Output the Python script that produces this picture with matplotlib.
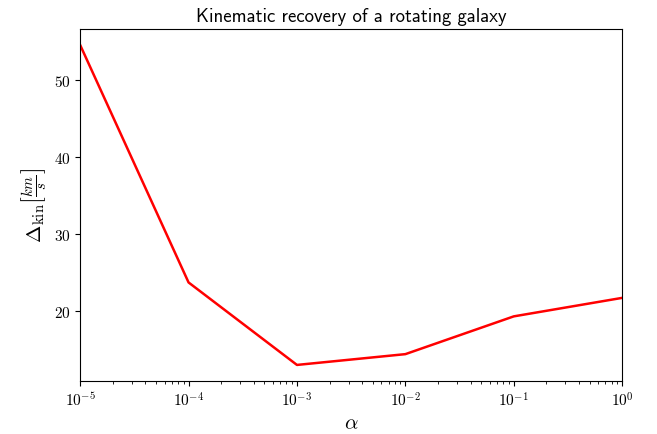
import matplotlib
matplotlib.use("Agg")
import matplotlib.pyplot as plt

plt.rcParams["font.family"] = "cmr10"
plt.rcParams["mathtext.fontset"] = "cm"
plt.rcParams["axes.formatter.use_mathtext"] = True
plt.rcParams["axes.unicode_minus"] = False

# regularisation strength and the resulting kinematic error
alpha = [1e-5, 1e-4, 1e-3, 1e-2, 1e-1, 1e0]
delta_kin = [54.5, 23.7, 13.0, 14.4, 19.3, 21.7]

fig = plt.figure(figsize=(6.57, 4.35), dpi=100)
ax = fig.add_axes([0.122, 0.122, 0.825, 0.809])

ax.plot(alpha, delta_kin, color="red", lw=1.8)
ax.set_xscale("log")
ax.set_xlim(alpha[0], alpha[-1])
ax.margins(y=0.05)

ax.tick_params(labelsize=11)
ax.set_xlabel(r"$\alpha$", fontsize=15)
ax.set_ylabel(r"$\Delta_{\rm kin}\left[\frac{km}{s}\right]$", fontsize=15)
ax.set_title("Kinematic recovery of a rotating galaxy", fontsize=13.5,
             family="cmss10")

fig.savefig("out.png", dpi=100)
